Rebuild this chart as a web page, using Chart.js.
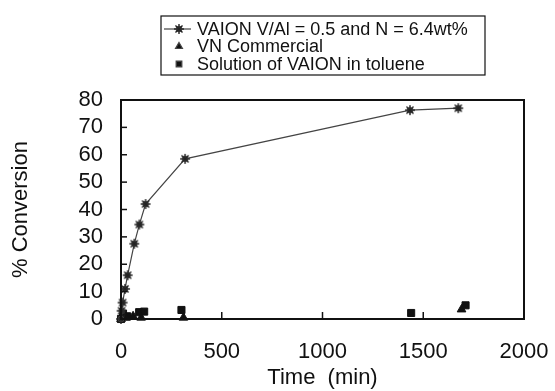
<!DOCTYPE html>
<html>
<head>
<meta charset="utf-8">
<script src="https://cdn.jsdelivr.net/npm/chart.js@4/dist/chart.umd.min.js"></script>
<style>
  html, body { margin: 0; padding: 0; background: #ffffff; }
  #wrap { width: 555px; height: 391px; position: relative; }
</style>
</head>
<body>
<div id="wrap"><canvas id="conversion-chart"></canvas></div>
<script>
/* global Chart */

// Conversion vs time for the three catalyst samples.
const SERIES_LABELS = [
  "VAION V/Al = 0.5 and N = 6.4wt%",
  "VN Commercial",
  "Solution of VAION in toluene",
];

const timeVaion = [0, 3, 8, 20, 33, 66, 91, 122, 318, 1434, 1674];
const convVaion = [0, 3, 6, 11, 16, 27.5, 34.5, 42, 58.5, 76.3, 77];

const timeCommercial = [0, 8, 25, 60, 100, 310, 1690];
const convCommercial = [0, 1, 0.5, 1, 0.5, 0.5, 3.5];

const timeSolution = [0, 10, 30, 90, 115, 300, 1440, 1710];
const convSolution = [0, 2, 1, 2.5, 2.7, 3.3, 2.2, 5];

const xTicks = [0, 500, 1000, 1500, 2000];
const yTicks = [0, 10, 20, 30, 40, 50, 60, 70, 80];

const INK = "#111111";
const FONT = "'Liberation Sans', Arial, Helvetica, sans-serif";

function toPoints(xs, ys) {
  return xs.map((x, i) => ({ x, y: ys[i] }));
}

// gray blob with spikes, like the scanned star marker
function makeStarMarker(size) {
  const c = document.createElement("canvas");
  c.width = size;
  c.height = size;
  const g = c.getContext("2d");
  const m = size / 2;
  g.fillStyle = "#555555";
  g.beginPath();
  g.arc(m, m, m * 0.55, 0, Math.PI * 2);
  g.fill();
  g.strokeStyle = "#222222";
  g.lineWidth = 1.4;
  for (let k = 0; k < 4; k++) {
    const a = (k * Math.PI) / 4;
    g.beginPath();
    g.moveTo(m + Math.cos(a) * (m - 1), m + Math.sin(a) * (m - 1));
    g.lineTo(m - Math.cos(a) * (m - 1), m - Math.sin(a) * (m - 1));
    g.stroke();
  }
  return c;
}

const starMarker = makeStarMarker(12);

const frameAndTicks = {
  id: "frameAndTicks",
  afterDatasetsDraw(chart) {
    const { ctx, chartArea, scales } = chart;
    ctx.save();
    ctx.strokeStyle = INK;
    ctx.lineWidth = 2;
    ctx.strokeRect(chartArea.left, chartArea.top,
      chartArea.right - chartArea.left, chartArea.bottom - chartArea.top);
    ctx.lineWidth = 1.5;
    yTicks.forEach((v) => {
      const y = scales.y.getPixelForValue(v);
      ctx.beginPath();
      ctx.moveTo(chartArea.left, y);
      ctx.lineTo(chartArea.left + 6, y);
      ctx.stroke();
    });
    xTicks.forEach((v) => {
      const x = scales.x.getPixelForValue(v);
      ctx.beginPath();
      ctx.moveTo(x, chartArea.bottom);
      ctx.lineTo(x, chartArea.bottom - 7);
      ctx.stroke();
    });
    ctx.restore();
  },
};

// boxed single-column legend above the plot
const boxedLegend = {
  id: "boxedLegend",
  afterDraw(chart) {
    const { ctx } = chart;
    const box = { left: 161, top: 16, width: 324, height: 59 };
    const rowH = 17.5;
    ctx.save();
    ctx.strokeStyle = INK;
    ctx.lineWidth = 1.2;
    ctx.strokeRect(box.left, box.top, box.width, box.height);
    ctx.font = "18px " + FONT;
    ctx.fillStyle = INK;
    ctx.textBaseline = "middle";
    chart.data.datasets.forEach((ds, i) => {
      const y = box.top + 13 + i * rowH;
      const mx = box.left + 18;
      if (ds.showLine) {
        ctx.strokeStyle = "#444444";
        ctx.lineWidth = 1.2;
        ctx.beginPath();
        ctx.moveTo(box.left + 3, y);
        ctx.lineTo(box.left + 30, y);
        ctx.stroke();
      }
      Chart.helpers.drawPoint(ctx, {
        pointStyle: ds.pointStyle,
        radius: 4,
        rotation: 0,
        borderWidth: 1,
      }, mx, y);
      ctx.fillStyle = INK;
      ctx.fillText(ds.label, box.left + 36, y + 1);
    });
    ctx.restore();
  },
};

Chart.defaults.font.family = FONT;
Chart.defaults.color = INK;

new Chart(document.getElementById("conversion-chart"), {
  type: "scatter",
  data: {
    datasets: [
      {
        label: SERIES_LABELS[0],
        data: toPoints(timeVaion, convVaion),
        showLine: true,
        borderColor: "#444444",
        borderWidth: 1.2,
        backgroundColor: "#444444",
        pointStyle: starMarker,
        pointRadius: 6,
        clip: false,
      },
      {
        label: SERIES_LABELS[1],
        data: toPoints(timeCommercial, convCommercial),
        showLine: false,
        pointStyle: "triangle",
        pointRadius: 5,
        backgroundColor: INK,
        borderColor: INK,
        borderWidth: 1,
        clip: false,
      },
      {
        label: SERIES_LABELS[2],
        data: toPoints(timeSolution, convSolution),
        showLine: false,
        pointStyle: "rect",
        pointRadius: 5,
        backgroundColor: INK,
        borderColor: INK,
        borderWidth: 1,
        clip: false,
      },
    ],
  },
  options: {
    responsive: true,
    maintainAspectRatio: false,
    animation: false,
    layout: { padding: { left: 0, top: 100, right: 31, bottom: 0 } },
    scales: {
      x: {
        type: "linear",
        min: 0,
        max: 2000,
        afterBuildTicks: (scale) => {
          scale.ticks = xTicks.map((value) => ({ value }));
        },
        afterFit: (scale) => {
          scale.height = 72;
          scale.paddingLeft = 0;
          scale.paddingRight = 0;
        },
        grid: { display: false, drawTicks: false },
        border: { display: false },
        ticks: {
          font: { size: 22 },
          padding: 20,
          maxRotation: 0,
          autoSkip: false,
          color: INK,
          callback: (value) => String(value),
        },
        title: {
          display: true,
          text: "Time  (min)",
          font: { size: 22 },
          color: INK,
          padding: { top: 0, bottom: 0 },
        },
      },
      y: {
        type: "linear",
        min: 0,
        max: 80,
        afterBuildTicks: (scale) => {
          scale.ticks = yTicks.map((value) => ({ value }));
        },
        afterFit: (scale) => {
          scale.width = 121;
          scale.paddingTop = 0;
          scale.paddingBottom = 0;
        },
        grid: { display: false, drawTicks: false },
        border: { display: false },
        ticks: {
          font: { size: 22 },
          padding: 18,
          autoSkip: false,
          color: INK,
          callback: (value) => String(value),
        },
        title: {
          display: true,
          text: "% Conversion",
          font: { size: 22 },
          color: INK,
          padding: { top: 8, bottom: 0 },
        },
      },
    },
    plugins: {
      legend: { display: false },
      tooltip: { enabled: false },
    },
  },
  plugins: [frameAndTicks, boxedLegend],
});
</script>
</body>
</html>
